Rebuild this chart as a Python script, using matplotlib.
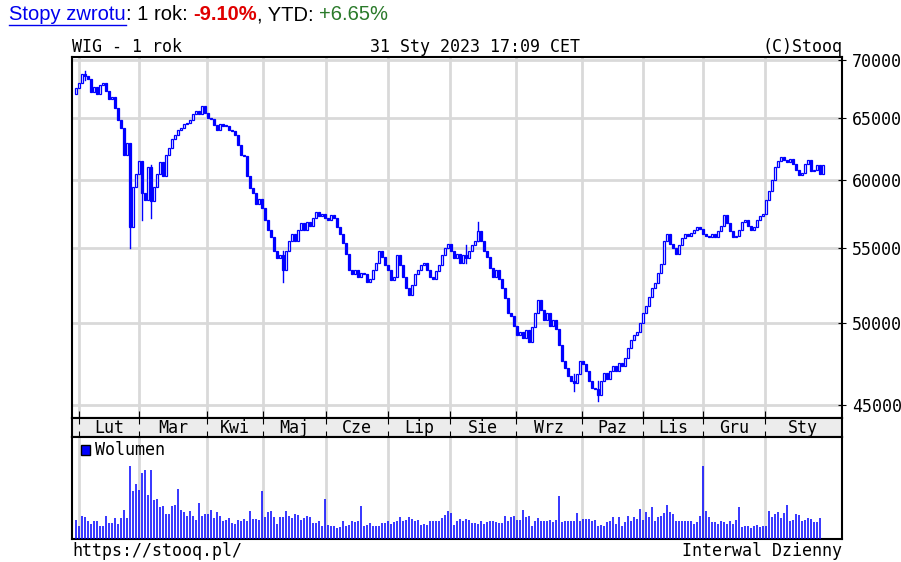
import matplotlib
matplotlib.use("Agg")
import matplotlib.pyplot as plt
from matplotlib.patches import Rectangle
from matplotlib.ticker import FixedLocator, NullLocator

close = [67.5,68.0,68.8,68.6,68.3,67.2,67.6,67.0,67.8,68.0,67.3,66.6,66.8,65.8,64.8,64.2,62.0,62.9,56.5,59.5,
 60.5,61.5,59.0,58.5,61.0,58.4,59.5,60.5,61.4,60.3,62.0,62.5,63.3,63.6,64.0,64.2,64.5,64.6,64.8,65.3,
 65.6,65.3,66.0,65.4,65.0,64.9,64.4,64.0,64.5,64.3,64.3,64.0,63.9,63.6,62.8,62.0,61.9,60.3,59.4,59.0,
 58.2,58.6,57.9,57.0,56.3,55.8,54.8,54.3,54.5,53.5,54.8,55.5,56.0,55.5,56.3,56.8,56.3,56.9,56.6,57.2,
 57.6,57.3,57.5,57.2,57.0,57.4,57.2,56.5,56.0,55.4,54.6,53.5,53.2,53.5,53.0,53.3,53.2,52.7,52.9,53.5,
 54.0,54.8,54.4,53.8,53.5,52.8,53.0,54.5,53.8,53.0,52.3,51.8,52.5,53.2,53.5,53.8,54.0,53.5,53.0,52.9,
 53.4,53.8,54.5,55.0,55.3,54.8,54.3,54.6,54.0,54.5,54.3,54.8,55.2,55.5,56.2,55.5,54.8,54.4,53.6,53.0,
 53.5,52.9,52.3,51.6,50.6,50.4,49.8,49.2,49.4,49.0,49.5,48.8,49.7,50.6,51.5,50.8,50.2,50.6,49.8,50.2,
 49.6,48.6,47.6,47.2,46.7,46.4,46.3,46.8,47.6,47.4,47.0,46.4,46.0,45.9,45.6,46.4,46.9,46.5,47.0,47.3,
 47.0,47.5,47.3,47.8,48.4,48.9,49.2,49.4,50.0,50.6,51.1,51.7,52.3,52.6,53.3,53.9,55.5,56.0,55.3,55.0,
 54.6,55.2,55.7,56.0,55.9,56.1,56.3,56.5,56.4,56.0,55.9,55.8,56.0,55.8,56.2,56.6,57.4,56.8,56.2,55.8,
 55.9,56.3,56.9,57.0,56.6,56.3,56.5,57.0,57.3,57.5,58.5,59.2,60.0,61.0,61.5,61.8,61.6,61.4,61.7,61.3,
 60.8,60.4,60.6,61.3,61.6,60.7,60.8,61.2,60.5,61.2]
first_open = 67.0
# notable wicks: day -> (low, high)
wicks = {18: (55.0, 60.3), 25: (57.2, 61.2), 22: (57.0, 61.0), 69: (52.7, 54.8), 134: (55.5, 56.9),
         174: (45.2, 46.4), 166: (45.8, 46.8), 3: (68.2, 69.0), 130: (54.0, 55.2)}

vol_a = [58,40,70,66,53,45,53,53,40,40,70,49,49,62,45,62,87,62,220,143,166,148,198,206,133,206,118,121,95,98,
 75,75,98,103,151,87,80,70,85,70,58,107,70,75,75,88,63,80,70,53,58,63,48,45,58,53,61,55,85,61,
 61,56,143,67,80,85,67,45,67,67,85,70,62,75,72,57,62,70,67,48,48,53,40,121,43,40,39,33,35,53,
 40,43,53,50,53,98,40,43,48,40,40,40,48,48,53,45,50,53,67,53,57,67,61,53,58,42,45,42,53,53,
 53,53,62,72,85,78,43,53,61]
vol_b = [53,61,58,48,48,45,53,45,50,53,53,50,48,48,70,53,67,70,58,58,88,67,70,40,53,63,53,53,53,58,
 50,58,130,50,53,53,53,53,77,53,61,61,61,53,58,40,43,40,50,55,67,45,67,40,50,70,55,65,61,89,
 58,80,67,95,53,65,70,77,103,80,75,55,53,53,53,53,53,45,50,70,220,85,67,50,50,45,53,50,45,55,
 45,58,95,35,40,40,33,40,43,35,40,40,85,67,75,80,63,77,103,55,58,75,72,53,58,63,61,50,50,63]
volume = (vol_a + vol_b)[:len(close)]

month_labels = ["Lut","Mar","Kwi","Maj","Cze","Lip","Sie","Wrz","Paz","Lis","Gru","Sty"]
month_starts = [1,21,43.7,62.3,83.3,104,124.7,146.6,168.6,189,209,229.7,255]
price_ticks = [45000,50000,55000,60000,65000,70000]

W, H = 901, 562
fig = plt.figure(figsize=(W/100, H/100), dpi=100)
mono = "DejaVu Sans Mono"
BLUE = "#0000ff"
GRID = "#d9d9d9"
xlim = (-4/3, 770/3 - 4/3)

def box(l, t, r, b):
    return [l/W, 1-b/H, (r-l)/W, (b-t)/H]

ax = fig.add_axes(box(72, 57, 842, 418))
ax.set_yscale("log")
ax.set_ylim(44250, 70270)
ax.set_xlim(*xlim)
opens = [first_open] + close[:-1]
for i, (o, c) in enumerate(zip(opens, close)):
    o *= 1000; c *= 1000
    if i in wicks:
        lo, hi = wicks[i]
        ax.plot([i, i], [lo*1000, hi*1000], color=BLUE, lw=1, zorder=3)
    lo, hi = min(o, c), max(o, c)
    if hi/lo < 1.0012:
        hi = lo*1.0012
    up = c >= o
    ax.add_patch(Rectangle((i-0.3, lo), 0.6, hi-lo, facecolor="white" if up else BLUE,
                           edgecolor=BLUE, lw=0.9, zorder=4))
ax.yaxis.set_major_locator(FixedLocator(price_ticks))
ax.yaxis.set_minor_locator(NullLocator())
ax.yaxis.set_major_formatter(matplotlib.ticker.FuncFormatter(lambda v, p: f"{int(v)}"))
ax.yaxis.tick_right()
ax.tick_params(axis="y", direction="inout", length=6, labelsize=12, pad=4)
for lab in ax.get_yticklabels():
    lab.set_family(mono)
ax.set_xticks(month_starts[:-1])
ax.tick_params(axis="x", direction="in", length=5, labelbottom=False)
ax.grid(True, color=GRID, lw=2)
ax.set_axisbelow(True)
for s in ax.spines.values():
    s.set_linewidth(1.5)

band = fig.add_axes(box(72, 418, 842, 437))
band.set_facecolor("#ececec")
band.set_xlim(*xlim); band.set_ylim(0, 1)
band.set_yticks([])
band.set_xticks(month_starts[:-1])
band.tick_params(axis="x", direction="in", length=4, top=True, labelbottom=False)
for k, lab in enumerate(month_labels):
    band.text((month_starts[k]+month_starts[k+1])/2, 0.45, lab, ha="center", va="center",
              family=mono, fontsize=12)
for s in band.spines.values():
    s.set_linewidth(1.5)

vax = fig.add_axes(box(72, 437, 842, 539))
vax.set_xlim(*xlim); vax.set_ylim(0, 306)
vax.vlines(range(len(volume)), 0, volume, color=BLUE, lw=1.1, zorder=3)
vax.set_yticks([])
vax.set_xticks(month_starts[:-1])
vax.tick_params(axis="x", direction="in", length=0, labelbottom=False)
vax.grid(True, axis="x", color=GRID, lw=2)
vax.set_axisbelow(True)
for s in vax.spines.values():
    s.set_linewidth(1.5)
vax.add_patch(Rectangle((0.012, 0.82), 0.012, 0.1, transform=vax.transAxes, facecolor=BLUE,
                        edgecolor="black", lw=1, zorder=5))
vax.text(0.03, 0.87, "Wolumen", transform=vax.transAxes, family=mono, fontsize=12, va="center")

fig.text(72/W, 1-47/H, "WIG - 1 rok", family=mono, fontsize=12, va="center")
fig.text(475/W, 1-47/H, "31 Sty 2023 17:09 CET", family=mono, fontsize=12, va="center", ha="center")
fig.text(842/W, 1-47/H, "(C)Stooq", family=mono, fontsize=12, va="center", ha="right")
fig.text(72/W, 1-551/H, "https://stooq.pl/", family=mono, fontsize=12, va="center")
fig.text(842/W, 1-551/H, "Interwal Dzienny", family=mono, fontsize=12, va="center", ha="right")

# top header line
parts = [("Stopy zwrotu", "#0000ee", "normal"), (": 1 rok: ", "black", "normal"),
         ("-9.10%", "#e00000", "bold"), (", YTD: ", "black", "normal"), ("+6.65%", "#2a7a2a", "normal")]
fig.canvas.draw()
r = fig.canvas.get_renderer()
x = 9
for s, col, wt in parts:
    t = fig.text(x/W, 1-15/H, s, color=col, fontweight=wt, family="Liberation Sans",
                 fontsize=14.5, va="center")
    bb = t.get_window_extent(r)
    if s == "Stopy zwrotu":
        fig.add_artist(plt.Line2D([x/W, (x+bb.width)/W], [1-25/H, 1-25/H], color=col, lw=1))
    x += bb.width

fig.savefig("out.png", dpi=100)
